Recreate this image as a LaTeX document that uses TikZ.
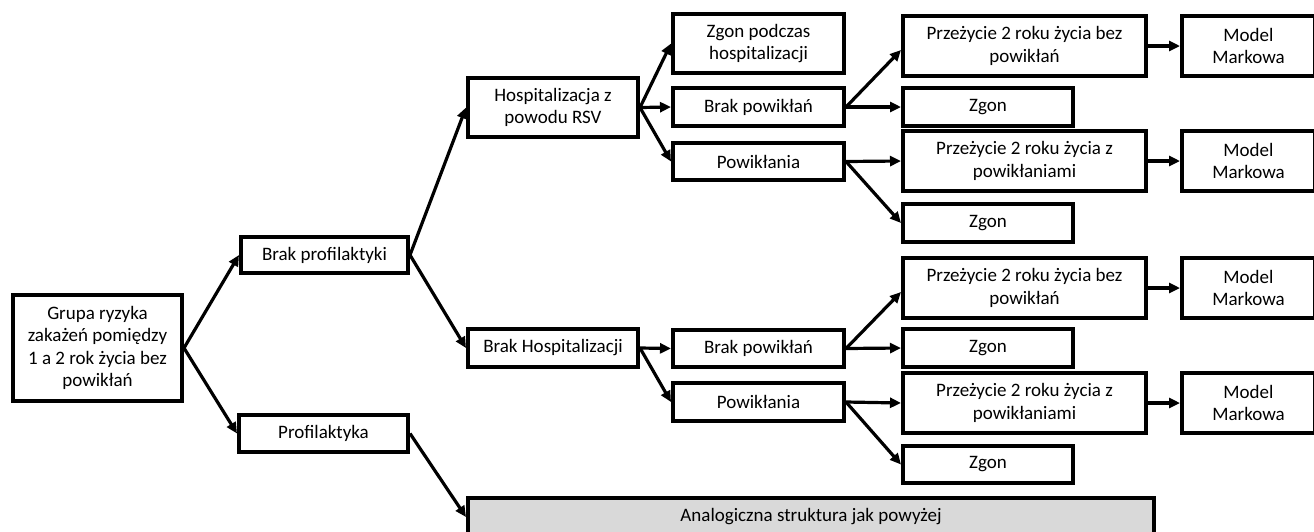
\documentclass[tikz,border=0pt]{standalone}
\usepackage{fontspec}
\setmainfont{Carlito}
\usetikzlibrary{arrows.meta}
\begin{document}
\begin{tikzpicture}[x=1pt,y=-1pt,
  box/.style={draw=black,line width=4pt,fill=white,align=center,inner sep=0pt,
    font=\fontsize{19}{22.5}\selectfont},
  grey/.style={box,fill=black!15},
  arr/.style={line width=3.2pt,-{Triangle[length=11pt,width=10pt]}}]
\useasboundingbox (0,0) rectangle (1314,531);
\newcommand\bx[7][box]{%
  \node[#1,minimum width={#5-#3},minimum height={#6-#4}] (#2) at ({(#3+#5)/2},{(#4+#6)/2}) {#7};}
\bx{root}{13}{295}{182}{401}{Grupa ryzyka\\zakażeń pomiędzy\\1 a 2 rok życia bez\\powikłań}
\bx{bp}{241}{237}{408}{273}{Brak profilaktyki}
\bx{pr}{239}{415}{408}{452}{Profilaktyka}
\bx{hosp}{468}{78}{638}{137}{Hospitalizacja z\\powodu RSV}
\bx{bh}{468}{329}{638}{367}{Brak Hospitalizacji}
\bx[grey]{an}{468}{498}{1154}{536}{Analogiczna struktura jak powyżej}
\bx{zh}{673}{14}{844}{73}{Zgon podczas\\hospitalizacji}
\bx{bpa}{673}{88}{844}{126}{Brak powikłań}
\bx{pwa}{673}{143}{844}{180}{Powikłania}
\bx{bpb}{673}{330}{844}{367}{Brak powikłań}
\bx{pwb}{673}{383}{844}{421}{Powikłania}
\bx{sa}{903}{16}{1146}{76}{Przeżycie 2 roku życia bez\\powikłań}
\bx{za}{903}{88}{1073}{126}{Zgon}
\bx{sb}{903}{131}{1146}{191}{Przeżycie 2 roku życia z\\powikłaniami}
\bx{zb}{903}{204}{1073}{242}{Zgon}
\bx{sc}{903}{258}{1146}{318}{Przeżycie 2 roku życia bez\\powikłań}
\bx{zc}{903}{329}{1073}{367}{Zgon}
\bx{sd}{903}{373}{1146}{433}{Przeżycie 2 roku życia z\\powikłaniami}
\bx{zd}{903}{446}{1073}{483}{Zgon}
\bx{ma}{1182}{16}{1315}{76}{Model\\Markowa}
\bx{mb}{1182}{131}{1315}{191}{Model\\Markowa}
\bx{mc}{1182}{258}{1315}{318}{Model\\Markowa}
\bx{md}{1182}{373}{1315}{433}{Model\\Markowa}
\draw[arr] (root.east) -- (bp.west);
\draw[arr] (root.east) -- (pr.west);
\draw[arr] (bp.east) -- (hosp.west);
\draw[arr] (bp.east) -- (bh.west);
\draw[arr] (pr.east) -- (an.west);
\draw[arr] (hosp.east) -- (zh.west);
\draw[arr] (hosp.east) -- (bpa.west);
\draw[arr] (hosp.east) -- (pwa.west);
\draw[arr] (bh.east) -- (bpb.west);
\draw[arr] (bh.east) -- (pwb.west);
\draw[arr] (bpa.east) -- ([yshift=-4pt]sa.west);
\draw[arr] (bpa.east) -- (za.west);
\draw[arr] (pwa.east) -- (sb.west);
\draw[arr] (pwa.east) -- (zb.west);
\draw[arr] (bpb.east) -- ([yshift=-4pt]sc.west);
\draw[arr] (bpb.east) -- (zc.west);
\draw[arr] (pwb.east) -- (sd.west);
\draw[arr] (pwb.east) -- (zd.west);
\draw[arr] (sa.east) -- (ma.west);
\draw[arr] (sb.east) -- (mb.west);
\draw[arr] (sc.east) -- (mc.west);
\draw[arr] (sd.east) -- (md.west);
\end{tikzpicture}
\end{document}
